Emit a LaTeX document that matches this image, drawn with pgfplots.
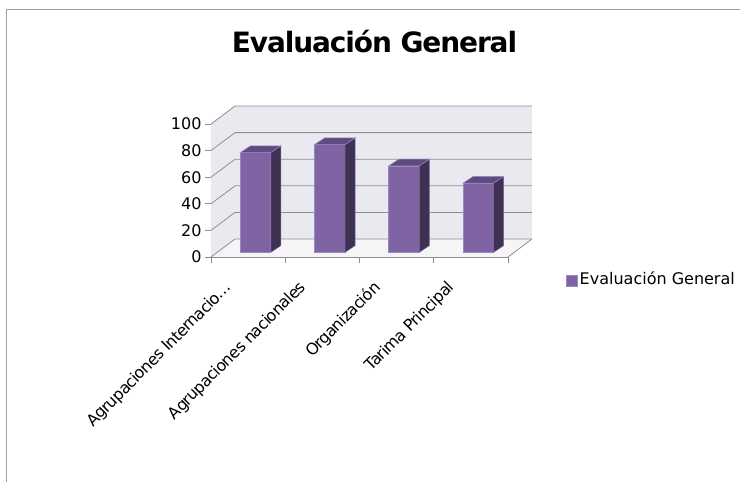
\documentclass[border=0pt]{standalone}
\usepackage{pgfplots}
\pgfplotsset{compat=1.18}
\usepackage{fontspec}
\setmainfont{DejaVu Sans}
\newfontfamily\titlefont{DejaVu Sans}[LetterSpace=-4]
\newfontfamily\labelfont{DejaVu Sans}[LetterSpace=-4]
\definecolor{wall}{HTML}{EBE9F0}
\definecolor{floorc}{HTML}{F5F5F7}
\definecolor{gridc}{HTML}{8E8E8E}
\definecolor{barfront}{HTML}{7F63A2}
\definecolor{barside}{HTML}{3F3152}
\definecolor{bartop}{HTML}{5F4B80}
\definecolor{baredge}{HTML}{9A8AC4}
\begin{document}
\begin{tikzpicture}[x=1pt,y=1pt]
\useasboundingbox (0,0) rectangle (740,482);
\draw[gray!75, line width=1.5pt] (6.5,0) -- (6.5,472.5) -- (740,472.5);
\node[font=\titlefont\bfseries\fontsize{28}{32}\selectfont, anchor=base] at (374.5,429) {Evaluación General};
\begin{axis}[
  at={(211pt,225pt)}, anchor=south west, scale only axis,
  width=297pt, height=133pt,
  xmin=0, xmax=4, ymin=0, ymax=100, clip=false,
  axis x line*=bottom, axis y line*=left,
  axis line style={gridc, line width=0.8pt},
  tick align=outside, major tick length=6pt,
  tick style={gridc, line width=0.8pt},
  ytick={0,20,40,60,80,100},
  xtick={0,1,2,3,4},
  x tick label as interval,
  xticklabels={{Agrupaciones Internacio\dots},{Agrupaciones nacionales},{Organización},{Tarima Principal},{}},
  xticklabel style={xshift=-24.5pt, yshift=-16.5pt, rotate=45, anchor=north east, inner sep=0pt,
    font=\labelfont\fontsize{16}{19}\selectfont},
  yticklabel style={font=\fontsize{16}{19}\selectfont},
  /pgf/number format/assume math mode=true,
  legend style={at={(1.195,-0.165)}, anchor=west, draw=none, fill=none,
    font=\fontsize{16}{19}\selectfont, inner sep=0pt},
]
% walls and floor
\addplot[fill=wall, draw=none, forget plot] coordinates {(0.323,13.5)(4.323,13.5)(4.323,113.5)(0.323,113.5)} -- cycle;
\addplot[fill=wall, draw=none, forget plot] coordinates {(0,0)(0.323,13.5)(0.323,113.5)(0,100)} -- cycle;
\addplot[fill=floorc, draw=none, forget plot] coordinates {(0,0)(4,0)(4.323,13.5)(0.323,13.5)} -- cycle;
% gridlines
\addplot[gridc, line width=0.8pt, forget plot] coordinates {(0,0)(0.323,13.5)(4.323,13.5)};
\addplot[gridc, line width=0.8pt, forget plot] coordinates {(0,20)(0.323,33.5)(4.323,33.5)};
\addplot[gridc, line width=0.8pt, forget plot] coordinates {(0,40)(0.323,53.5)(4.323,53.5)};
\addplot[gridc, line width=0.8pt, forget plot] coordinates {(0,60)(0.323,73.5)(4.323,73.5)};
\addplot[gridc, line width=0.8pt, forget plot] coordinates {(0,80)(0.323,93.5)(4.323,93.5)};
\addplot[gridc, line width=0.8pt, forget plot] coordinates {(0,100)(0.323,113.5)(4.323,113.5)};
\addplot[gridc, line width=0.8pt, forget plot] coordinates {(4,0)(4.323,13.5)};
% bar fronts
\addplot[ybar, bar width=30.5pt, fill=barfront, draw=baredge, line width=0.6pt, yshift=4.7pt,
  legend image code/.code={\fill[barfront, draw=baredge] (0pt,-12pt) rectangle (11pt,-1pt);}]
  coordinates {(0.6,75)(1.6,81)(2.6,65)(3.6,52)};
\addlegendentry{Evaluación General}
% side faces
\addplot[fill=barside, draw=baredge!60!barside, line width=0.5pt, forget plot] coordinates {(0.8054,3.53)(0.9401,8.53)(0.9401,83.53)(0.8054,78.53)} -- cycle;
\addplot[fill=barside, draw=baredge!60!barside, line width=0.5pt, forget plot] coordinates {(1.8054,3.53)(1.9401,8.53)(1.9401,89.53)(1.8054,84.53)} -- cycle;
\addplot[fill=barside, draw=baredge!60!barside, line width=0.5pt, forget plot] coordinates {(2.8054,3.53)(2.9401,8.53)(2.9401,73.53)(2.8054,68.53)} -- cycle;
\addplot[fill=barside, draw=baredge!60!barside, line width=0.5pt, forget plot] coordinates {(3.8054,3.53)(3.9401,8.53)(3.9401,60.53)(3.8054,55.53)} -- cycle;
% top faces
\addplot[fill=bartop, draw=baredge, line width=0.5pt, forget plot] coordinates {(0.3946,78.53)(0.8054,78.53)(0.9401,83.53)(0.5293,83.53)} -- cycle;
\addplot[fill=bartop, draw=baredge, line width=0.5pt, forget plot] coordinates {(1.3946,84.53)(1.8054,84.53)(1.9401,89.53)(1.5293,89.53)} -- cycle;
\addplot[fill=bartop, draw=baredge, line width=0.5pt, forget plot] coordinates {(2.3946,68.53)(2.8054,68.53)(2.9401,73.53)(2.5293,73.53)} -- cycle;
\addplot[fill=bartop, draw=baredge, line width=0.5pt, forget plot] coordinates {(3.3946,55.53)(3.8054,55.53)(3.9401,60.53)(3.5293,60.53)} -- cycle;
\end{axis}
\end{tikzpicture}
\end{document}
